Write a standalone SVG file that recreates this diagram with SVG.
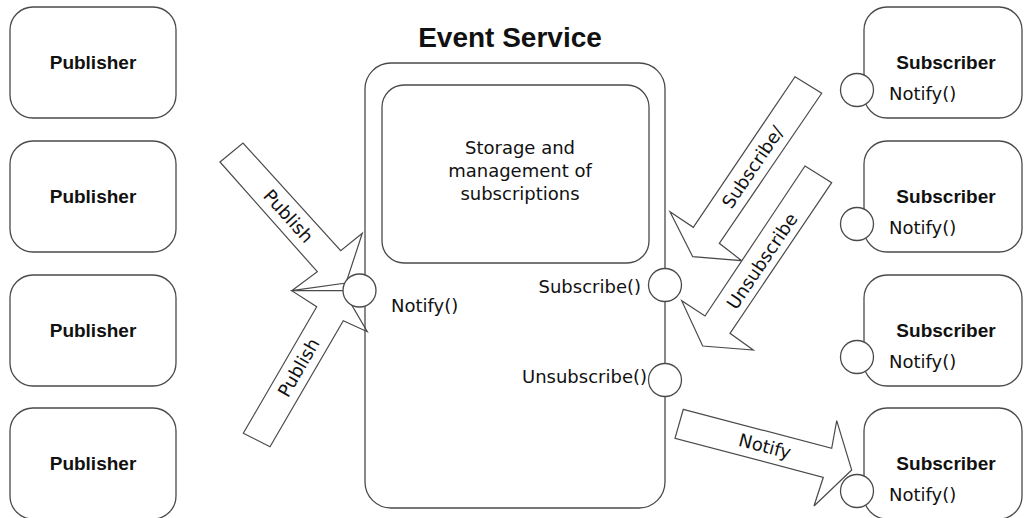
<svg xmlns="http://www.w3.org/2000/svg" width="1024" height="518" viewBox="0 0 1024 518">
<style>
.box{fill:none;stroke:#4a4a4a;stroke-width:1.3}
.port{fill:#fff;stroke:#4a4a4a;stroke-width:1.3}
.arrow{fill:#fff;stroke:#4a4a4a;stroke-width:1.2;stroke-linejoin:miter}
.bold{font-family:"Liberation Sans",Arial,sans-serif;font-weight:bold;font-size:19px;fill:#111;text-anchor:middle}
.title{font-family:"Liberation Sans",Arial,sans-serif;font-weight:bold;font-size:28px;fill:#111;text-anchor:middle}
.reg{font-family:"DejaVu Sans",sans-serif;font-size:18px;fill:#111}
.lbl{font-family:"DejaVu Sans",sans-serif;font-size:18px;fill:#111;text-anchor:middle;dominant-baseline:central}
</style>
<rect width="1024" height="518" fill="#fff"/>
<g id="connectors">
  <g id="publish-1">
    <polygon class="arrow" points="220,162 243,143 340.7,250.7 362.3,233.3 346,283 291.7,290.7 317.3,271.7"/>
    <text class="lbl" transform="translate(288.5,216) rotate(48)">Publish</text>
  </g>
  <g id="publish-2">
    <polygon class="arrow" points="243.3,433.3 270,446.7 343.3,320.7 367.3,331.7 343.3,290.7 291.7,290.7 316.7,306.7"/>
    <text class="lbl" transform="translate(298.5,367.5) rotate(-60)">Publish</text>
  </g>
  <g id="subscribe">
    <polygon class="arrow" points="795,76.7 821.7,93.3 719.3,243.3 741.7,260.7 692.7,256.7 670,211.7 693.3,227.3"/>
    <text class="lbl" transform="translate(752.5,167) rotate(-56)">Subscribe/</text>
  </g>
  <g id="unsubscribe">
    <polygon class="arrow" points="805,166 831.7,182.7 730,333.3 753.3,350 702.7,346 681.7,300.7 705,316"/>
    <text class="lbl" transform="translate(762,261) rotate(-56)">Unsubscribe</text>
  </g>
  <g id="notify">
    <polygon class="arrow" points="683.3,409.3 831.7,448.3 836.7,420.7 851.7,470 814,506 823.3,477.3 675,438.3"/>
    <text class="lbl" transform="translate(765,446) rotate(14.7)">Notify</text>
  </g>
</g>
<g id="publisher-1"><rect class="box" x="10" y="7" width="166" height="111" rx="23"/><text class="bold" x="93" y="69">Publisher</text></g>
<g id="publisher-2"><rect class="box" x="10" y="141" width="166" height="111" rx="23"/><text class="bold" x="93" y="203">Publisher</text></g>
<g id="publisher-3"><rect class="box" x="10" y="275" width="166" height="111" rx="23"/><text class="bold" x="93" y="337">Publisher</text></g>
<g id="publisher-4"><rect class="box" x="10" y="408" width="166" height="111" rx="23"/><text class="bold" x="93" y="470">Publisher</text></g>
<g id="event-service">
  <text class="title" x="510" y="47">Event Service</text>
  <rect class="box" x="365" y="63" width="300" height="445" rx="26"/>
  <rect class="box" x="382" y="85" width="267" height="178" rx="22"/>
  <text class="reg" text-anchor="middle" x="520" y="154">Storage and</text>
  <text class="reg" text-anchor="middle" x="520" y="177">management of</text>
  <text class="reg" text-anchor="middle" x="520" y="200">subscriptions</text>
  <circle class="port" cx="359.5" cy="290.5" r="16.5"/>
  <text class="reg" x="391" y="311.5">Notify()</text>
  <circle class="port" cx="665" cy="285" r="16.5"/>
  <text class="reg" text-anchor="end" x="641" y="293">Subscribe()</text>
  <circle class="port" cx="665" cy="380" r="16.5"/>
  <text class="reg" x="522" y="383">Unsubscribe()</text>
</g>
<g id="subscriber-1"><rect class="box" x="864" y="7" width="158" height="111" rx="23"/><circle class="port" cx="857" cy="90" r="16.5"/><text class="bold" x="946" y="69">Subscriber</text><text class="reg" x="889" y="100">Notify()</text></g>
<g id="subscriber-2"><rect class="box" x="864" y="141" width="158" height="111" rx="23"/><circle class="port" cx="857" cy="224" r="16.5"/><text class="bold" x="946" y="203">Subscriber</text><text class="reg" x="889" y="234">Notify()</text></g>
<g id="subscriber-3"><rect class="box" x="864" y="275" width="158" height="111" rx="23"/><circle class="port" cx="857" cy="357" r="16.5"/><text class="bold" x="946" y="337">Subscriber</text><text class="reg" x="889" y="368">Notify()</text></g>
<g id="subscriber-4"><rect class="box" x="864" y="408" width="158" height="111" rx="23"/><circle class="port" cx="857" cy="491" r="16.5"/><text class="bold" x="946" y="470">Subscriber</text><text class="reg" x="889" y="501">Notify()</text></g>
</svg>
